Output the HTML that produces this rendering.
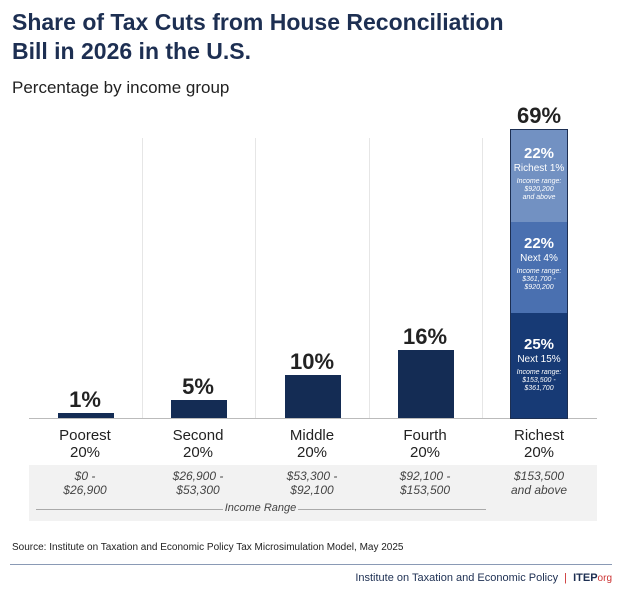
<!DOCTYPE html>
<html><head><style>
body{margin:0;width:624px;height:592px;background:#fff;font-family:"Liberation Sans",sans-serif;position:relative;overflow:hidden}
.a{position:absolute}
.t{left:12px;top:8px;font-size:23px;font-weight:bold;color:#1d2f52;line-height:29px}
.bar{position:absolute;background:#142c54;width:56px}
.vl{position:absolute;top:138px;height:280px;width:1px;background:#e6e6e6}
.pct{position:absolute;width:114px;text-align:center;font-size:22px;font-weight:bold;color:#222}
.cat{position:absolute;width:114px;text-align:center;font-size:15px;color:#222;line-height:17px;top:427px}
.rng{position:absolute;width:114px;text-align:center;font-size:12px;font-style:italic;color:#444;line-height:14px;top:469px}
.seg{position:absolute;left:511px;width:56px;color:#fff;text-align:center}
.seg b{display:block;font-size:15px}
.seg span{display:block;font-size:10px;margin-top:1px}
.seg i{display:block;font-size:7px;line-height:8px;margin-top:4px}
</style></head><body>
<div class="a t">Share of Tax Cuts from House Reconciliation<br>Bill in 2026 in the U.S.</div>
<div class="a" style="left:12px;top:78px;font-size:17px;color:#222">Percentage by income group</div>
<div class="vl" style="left:142px"></div><div class="vl" style="left:255px"></div><div class="vl" style="left:369px"></div><div class="vl" style="left:482px"></div>
<div class="a" style="left:29px;top:418px;width:568px;height:1px;background:#bbb"></div>
<div class="bar" style="left:58px;top:413px;height:5px"></div>
<div class="bar" style="left:171px;top:400px;height:18px"></div>
<div class="bar" style="left:285px;top:375px;height:43px"></div>
<div class="bar" style="left:398px;top:350px;height:68px"></div>
<div class="a" style="left:510px;top:129px;width:56px;height:288px;border:1px solid #1d2f52"></div>
<div class="seg" style="top:130px;height:92px;background:#7291c2"><div style="padding-top:15px"><b>22%</b><span>Richest 1%</span><i>Income range:<br>$920,200<br>and above</i></div></div>
<div class="seg" style="top:222px;height:91px;background:#4a70b0"><div style="padding-top:13px"><b>22%</b><span>Next 4%</span><i>Income range:<br>$361,700 -<br>$920,200</i></div></div>
<div class="seg" style="top:313px;height:105px;background:#173a75"><div style="padding-top:23px"><b>25%</b><span>Next 15%</span><i>Income range:<br>$153,500 -<br>$361,700</i></div></div>
<div class="pct" style="left:28px;top:387px">1%</div>
<div class="pct" style="left:141px;top:374px">5%</div>
<div class="pct" style="left:255px;top:349px">10%</div>
<div class="pct" style="left:368px;top:324px">16%</div>
<div class="pct" style="left:482px;top:103px">69%</div>
<div class="cat" style="left:28px">Poorest<br>20%</div>
<div class="cat" style="left:141px">Second<br>20%</div>
<div class="cat" style="left:255px">Middle<br>20%</div>
<div class="cat" style="left:368px">Fourth<br>20%</div>
<div class="cat" style="left:482px">Richest<br>20%</div>
<div class="a" style="left:29px;top:465px;width:568px;height:56px;background:#f2f2f2"></div>
<div class="rng" style="left:28px">$0 -<br>$26,900</div>
<div class="rng" style="left:141px">$26,900 -<br>$53,300</div>
<div class="rng" style="left:255px">$53,300 -<br>$92,100</div>
<div class="rng" style="left:368px">$92,100 -<br>$153,500</div>
<div class="rng" style="left:482px">$153,500<br>and above</div>
<div class="a" style="left:36px;top:509px;width:187px;height:1px;background:#aaa"></div>
<div class="a" style="left:298px;top:509px;width:188px;height:1px;background:#aaa"></div>
<div class="a" style="left:215px;top:502px;width:91px;text-align:center;font-size:11px;font-style:italic;color:#444;white-space:nowrap">Income Range</div>
<div class="a" style="left:12px;top:542px;font-size:10px;color:#222">Source: Institute on Taxation and Economic Policy Tax Microsimulation Model, May 2025</div>
<div class="a" style="left:10px;top:564px;width:602px;height:1px;background:#8a9ab5"></div>
<div class="a" style="right:12px;top:572px;font-size:11px;color:#1d2f52;white-space:nowrap">Institute on Taxation and Economic Policy <span style="color:#c33;margin:0 3px">|</span> <b>ITEP</b><span style="color:#c33;font-size:10px">org</span></div>
</body></html>
